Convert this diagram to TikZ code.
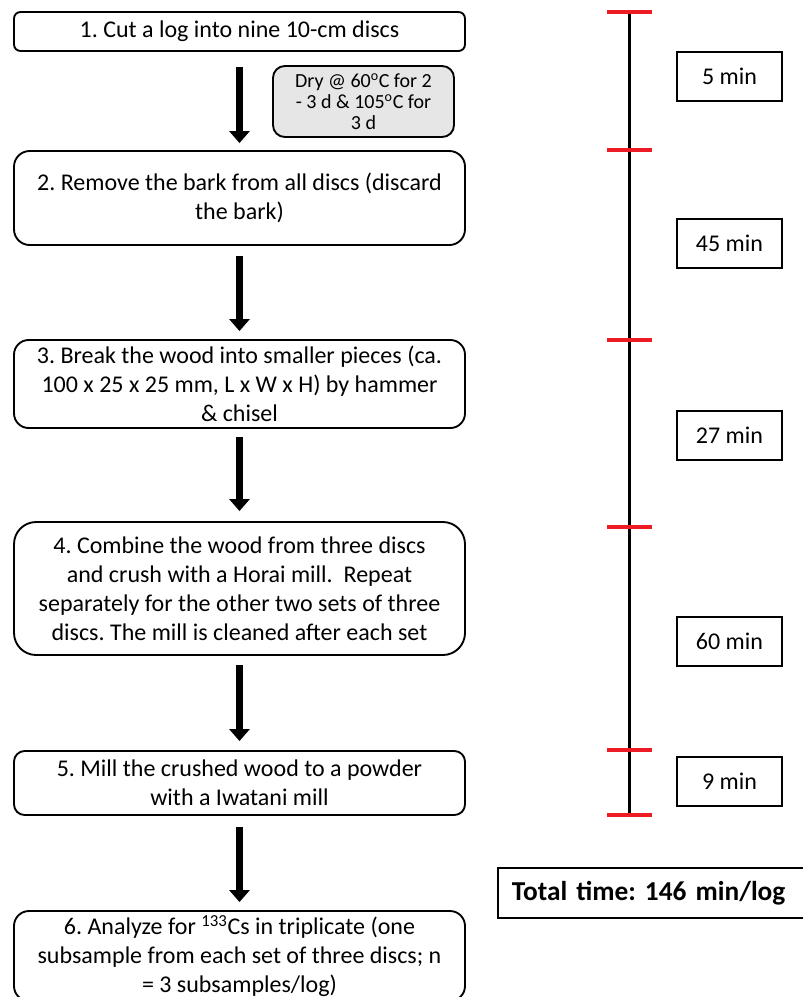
\documentclass[tikz,border=0pt]{standalone}
\usepackage{fontspec}
\setmainfont{Carlito}
\usetikzlibrary{arrows.meta}
\definecolor{tlred}{RGB}{237,28,36}
\definecolor{drygray}{RGB}{230,230,230}
\frenchspacing
\begin{document}
\begin{tikzpicture}[x=0.75pt,y=-0.75pt,
  stepbox/.style={draw, line width=1.4pt, rounded corners=#1, minimum width=338.25pt,
    align=center, inner sep=0pt, font=\fontsize{18}{21.75}\selectfont},
  drybox/.style={draw, line width=1.4pt, rounded corners=8.9pt, fill=drygray,
    minimum width=135.75pt, minimum height=53.25pt, align=center, inner sep=0pt,
    font=\fontsize{15}{15.75}\selectfont},
  timebox/.style={draw, line width=1.4pt, minimum width=78.75pt, minimum height=36.75pt,
    inner sep=0pt, font=\fontsize{18}{21.75}\selectfont},
  blockarrow/.style={line width=5.5pt, -{Triangle[length=9pt,width=15pt]},
    shorten <=7.5pt, shorten >=6pt},
  tlline/.style={line width=2.25pt},
  tltick/.style={line width=2.6pt, tlred}
]
\clip (0,0) rectangle (803,997);
\useasboundingbox (0,0) rectangle (803,997);

% flow boxes
\node[stepbox=4.9pt, minimum height=29.25pt] (b1) at (239.5,31.5)
  {1. Cut a log into nine 10-cm discs};
\node[stepbox=11.75pt, minimum height=70.5pt] (b2) at (239.5,198)
  {2. Remove the bark from all discs (discard\\the bark)};
\node[stepbox=11pt, minimum height=66pt] (b3) at (239.5,384)
  {3. Break the wood into smaller pieces (ca.\\100 x 25 x 25 mm, L x W x H) by hammer\\\& chisel};
\node[stepbox=16.6pt, minimum height=99.75pt] (b4) at (239.5,588.5)
  {4. Combine the wood from three discs\\and crush with a Horai mill.\ \ Repeat\\separately for the other two sets of three\\discs. The mill is cleaned after each set};
\node[stepbox=8pt, minimum height=48pt] (b5) at (239.5,783)
  {5. Mill the crushed wood to a powder\\with a Iwatani mill};
\node[stepbox=11.25pt, minimum height=67.5pt] (b6) at (239.5,956)
  {6. Analyze for \textsuperscript{133}Cs in triplicate (one\\subsample from each set of three discs; n\\= 3 subsamples/log)};

\node[drybox] (dry) at (363.5,101.5)
  {Dry @ 60\textsuperscript{o}C for 2\\- 3 d \& 105\textsuperscript{o}C for\\3 d};

% arrows
\draw[blockarrow, shorten <=11.25pt, shorten >=5.25pt] (b1.south) -- (b2.north);
\draw[blockarrow] (b2.south) -- (b3.north);
\draw[blockarrow, shorten <=6pt, shorten >=7.5pt] (b3.south) -- (b4.north);
\draw[blockarrow, shorten <=6.75pt, shorten >=6.75pt] (b4.south) -- (b5.north);
\draw[blockarrow, shorten <=8.25pt, shorten >=6pt] (b5.south) -- (b6.north);

% timeline
\coordinate (t0) at (629,12);
\coordinate (t1) at (629,150);
\coordinate (t2) at (629,340);
\coordinate (t3) at (629,527);
\coordinate (t4) at (629,750);
\coordinate (t5) at (629,815);
\draw[tlline] (t0) -- (t5);
\foreach \t in {t0,t1,t2,t3,t4,t5}
  \draw[tltick] ([xshift=-16.5pt]\t) -- ([xshift=17.25pt]\t);

% durations
\node[timebox] (d1) at (729.5,76.5) {5 min};
\node[timebox] (d2) at (729.5,243.5) {45 min};
\node[timebox] (d3) at (729.5,435.5) {27 min};
\node[timebox] (d4) at (729.5,641.5) {60 min};
\node[timebox] (d5) at (729.5,781.5) {9 min};

% total
\node[draw, line width=1.4pt, anchor=west, minimum height=37.5pt, text width=225pt,
  inner xsep=10.5pt, inner ysep=0pt, align=left, font=\bfseries\fontsize{20.5}{25}\selectfont]
  (total) at (497,893) {Total time: 146 min/log};
\end{tikzpicture}
\end{document}
